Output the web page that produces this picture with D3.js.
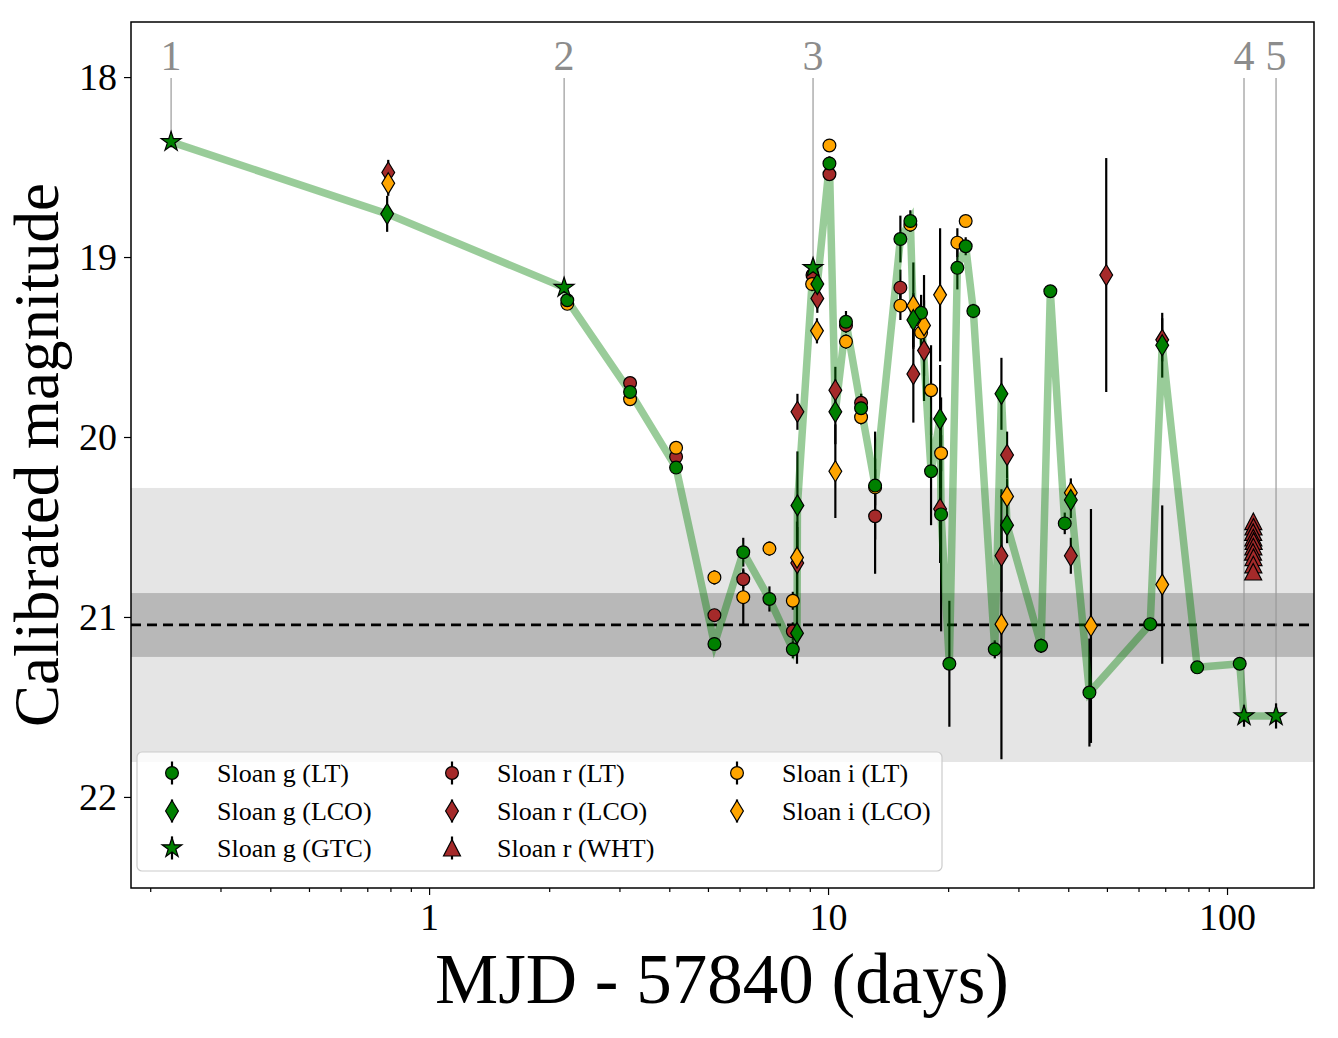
<!DOCTYPE html>
<html>
<head>
<meta charset="utf-8">
<script src="https://cdn.jsdelivr.net/npm/d3@7"></script>
<style>
  body { margin: 0; background: #fff; }
  svg text { font-family: "Liberation Serif", "DejaVu Serif", serif; }
</style>
</head>
<body>
<svg id="chart" width="1338" height="1038"></svg>
<script>
// each point: [MJD - 57840 (days), magnitude, error]
const gLT = [
  [2.22, 19.24, 0.03], [3.19, 19.75, 0.03], [4.16, 20.17, 0.03], [5.19, 21.15, 0.03],
  [6.13, 20.64, 0.08], [7.13, 20.90, 0.07], [8.16, 21.18, 0.05], [10.08, 18.48, 0.04],
  [11.09, 19.36, 0.06], [12.10, 19.84, 0.08], [13.12, 20.27, 0.30], [15.18, 18.90, 0.13],
  [16.08, 18.80, 0.06], [17.11, 19.31, 0.10], [18.12, 20.19, 0.30], [19.20, 20.43, 0.65],
  [20.14, 21.26, 0.35], [21.09, 19.06, 0.12], [22.13, 18.94, 0.05], [23.13, 19.30, 0.04],
  [26.17, 21.18, 0.05], [34.2, 21.16, 0.04], [36.07, 19.19, 0.03], [39.2, 20.48, 0.06],
  [45.2, 21.42, 0.30], [64.2, 21.04, 0.03], [84.2, 21.28, 0.03], [107.6, 21.26, 0.03]
];
const gLCO = [
  [0.785, 18.76, 0.10], [8.36, 21.09, 0.17], [8.38, 20.38, 0.30], [9.40, 19.15, 0.10],
  [10.43, 19.86, 0.18], [16.36, 19.35, 0.15], [19.09, 19.90, 0.30], [27.2, 19.76, 0.20],
  [28.1, 20.49, 0.10], [40.6, 20.35, 0.10], [68.8, 19.49, 0.18]
];
const gGTC = [
  [0.2256, 18.36, 0.03], [2.18, 19.17, 0.03], [9.17, 19.06, 0.05], [110.3, 21.55, 0.06], [132.7, 21.55, 0.07]
];
const rLT = [
  [3.19, 19.70, 0.03], [4.16, 20.11, 0.03], [5.19, 20.99, 0.03], [6.13, 20.79, 0.05],
  [8.16, 21.08, 0.05], [9.14, 19.10, 0.04], [10.08, 18.54, 0.03], [11.09, 19.38, 0.04],
  [12.10, 19.81, 0.05], [13.12, 20.44, 0.32], [15.18, 19.17, 0.10]
];
const rLCO = [
  [0.79, 18.53, 0.07], [8.38, 19.86, 0.10], [8.37, 20.70, 0.20], [9.40, 19.23, 0.08],
  [10.43, 19.74, 0.13], [16.36, 19.65, 0.27], [17.4, 19.52, 0.28], [19.09, 20.40, 0.30],
  [27.2, 20.66, 0.20], [28.1, 20.10, 0.13], [40.6, 20.66, 0.10], [49.8, 19.10, 0.65],
  [68.8, 19.46, 0.12]
];
const rWHT = [
  [116.4, 20.47, 0.03], [116.5, 20.50, 0.03], [116.3, 20.53, 0.03], [116.4, 20.56, 0.03],
  [116.6, 20.58, 0.03], [116.4, 20.61, 0.03], [116.2, 20.64, 0.03], [116.5, 20.67, 0.03],
  [116.4, 20.71, 0.03], [116.3, 20.75, 0.03]
];
const iLT = [
  [2.22, 19.26, 0.03], [3.19, 19.79, 0.03], [4.16, 20.06, 0.03], [5.19, 20.78, 0.04],
  [6.13, 20.89, 0.16], [7.13, 20.62, 0.04], [8.16, 20.91, 0.05], [9.12, 19.15, 0.04],
  [10.08, 18.38, 0.03], [11.09, 19.47, 0.04], [12.10, 19.89, 0.04], [13.12, 20.28, 0.10],
  [15.18, 19.27, 0.08], [16.08, 18.82, 0.04], [17.11, 19.42, 0.10], [18.12, 19.74, 0.25],
  [19.20, 20.09, 0.10], [21.09, 18.92, 0.08], [22.13, 18.80, 0.03]
];
const iLCO = [
  [0.79, 18.59, 0.07], [8.36, 20.67, 0.20], [9.38, 19.41, 0.07], [10.43, 20.19, 0.26],
  [16.36, 19.27, 0.24], [17.4, 19.38, 0.28], [19.09, 19.21, 0.37], [27.2, 21.04, 0.75],
  [28.1, 20.33, 0.10], [40.6, 20.31, 0.08], [45.6, 21.05, 0.65], [68.8, 20.82, 0.44]
];

// reference level and its 1 / 3 sigma bands
const refMag = 21.044;
const bandInner = [20.867, 21.222];
const bandOuter = [20.283, 21.806];

// GTC epochs marked on top
const epochLabels = ["1", "2", "3", "4", "5"];

const xMajor = [1, 10, 100];
const xMinor = [0.2, 0.3, 0.4, 0.5, 0.6, 0.7, 0.8, 0.9, 2, 3, 4, 5, 6, 7, 8, 9, 20, 30, 40, 50, 60, 70, 80, 90];
const yTicks = [18, 19, 20, 21, 22];

const legendLabels = [
  "Sloan g (LT)", "Sloan g (LCO)", "Sloan g (GTC)",
  "Sloan r (LT)", "Sloan r (LCO)", "Sloan r (WHT)",
  "Sloan i (LT)", "Sloan i (LCO)"
];

const GREEN = "#008000", BROWN = "#a52a2a", ORANGE = "#ffa500";

const W = 1338, H = 1038;
const M = { top: 22, right: 24, bottom: 150, left: 131 };
const iw = W - M.left - M.right, ih = H - M.top - M.bottom;

const x = d3.scaleLog().domain([0.179, 165.2]).range([0, iw]);
const y = d3.scaleLinear().domain([17.694, 22.506]).range([0, ih]);

// marker paths
const SHAPES = {
  circle: d3.symbol(d3.symbolCircle, Math.PI * 6.4 * 6.4)(),
  diamond: "M0,-10.5L6.4,0L0,10.5L-6.4,0Z",
  star: d3.symbol(d3.symbolStar, 122)(),
  triangle: "M0,-8.5L8.5,8L-8.5,8Z"
};

const series = [
  { label: "Sloan r (LT)", data: rLT, color: BROWN, shape: "circle" },
  { label: "Sloan r (LCO)", data: rLCO, color: BROWN, shape: "diamond" },
  { label: "Sloan r (WHT)", data: rWHT, color: BROWN, shape: "triangle" },
  { label: "Sloan i (LT)", data: iLT, color: ORANGE, shape: "circle" },
  { label: "Sloan i (LCO)", data: iLCO, color: ORANGE, shape: "diamond" },
  { label: "Sloan g (LT)", data: gLT, color: GREEN, shape: "circle" },
  { label: "Sloan g (LCO)", data: gLCO, color: GREEN, shape: "diamond" },
  { label: "Sloan g (GTC)", data: gGTC, color: GREEN, shape: "star" }
];

const svg = d3.select("#chart");
svg.append("rect").attr("width", W).attr("height", H).attr("fill", "#fff");

const defs = svg.append("defs");
defs.append("clipPath").attr("id", "clip").append("rect").attr("width", iw).attr("height", ih);

const g = svg.append("g").attr("transform", `translate(${M.left},${M.top})`);
const plot = g.append("g").attr("clip-path", "url(#clip)");

// bands + reference
plot.append("rect").attr("x", 0).attr("width", iw)
  .attr("y", y(bandOuter[0])).attr("height", y(bandOuter[1]) - y(bandOuter[0]))
  .attr("fill", "#e5e5e5");
plot.append("rect").attr("x", 0).attr("width", iw)
  .attr("y", y(bandInner[0])).attr("height", y(bandInner[1]) - y(bandInner[0]))
  .attr("fill", "#b8b8b8");
plot.append("line").attr("x1", 0).attr("x2", iw).attr("y1", y(refMag)).attr("y2", y(refMag))
  .attr("stroke", "#000").attr("stroke-width", 2.6).attr("stroke-dasharray", "10,6");

// epoch markers
gGTC.forEach((d, i) => {
  plot.append("line").attr("x1", x(d[0])).attr("x2", x(d[0]))
    .attr("y1", 56).attr("y2", y(d[1]))
    .attr("stroke", "#999").attr("stroke-width", 1.2);
  g.append("text").attr("x", x(d[0])).attr("y", 48)
    .attr("text-anchor", "middle").attr("font-size", 42).attr("fill", "#8c8c8c")
    .text(epochLabels[i]);
});

// error bars
series.forEach((s) => {
  plot.selectAll(null).data(s.data).join("line")
    .attr("x1", (d) => x(d[0])).attr("x2", (d) => x(d[0]))
    .attr("y1", (d) => y(d[1] - d[2])).attr("y2", (d) => y(d[1] + d[2]))
    .attr("stroke", "#000").attr("stroke-width", 2.2);
});

// g-band light curve
const gAll = [...gLT, ...gLCO, ...gGTC].sort((a, b) => a[0] - b[0]);
plot.append("path").datum(gAll)
  .attr("d", d3.line().x((d) => x(d[0])).y((d) => y(d[1])))
  .attr("fill", "none").attr("stroke", GREEN).attr("stroke-opacity", 0.4)
  .attr("stroke-width", 7.5).attr("stroke-linejoin", "miter");

// markers
series.forEach((s) => {
  plot.selectAll(null).data(s.data).join("path")
    .attr("d", SHAPES[s.shape])
    .attr("transform", (d) => `translate(${x(d[0])},${y(d[1])})`)
    .attr("fill", s.color).attr("stroke", "#000").attr("stroke-width", 1.2);
});

// axes
const xAxis = g.append("g").attr("transform", `translate(0,${ih})`)
  .call(d3.axisBottom(x).tickValues(xMajor).tickFormat(d3.format("d")).tickSize(7).tickPadding(8));
const xMinorAxis = g.append("g").attr("transform", `translate(0,${ih})`)
  .call(d3.axisBottom(x).tickValues(xMinor).tickFormat("").tickSize(4));
const yAxis = g.append("g")
  .call(d3.axisLeft(y).tickValues(yTicks).tickFormat(d3.format("d")).tickSize(7).tickPadding(7));
[xAxis, xMinorAxis, yAxis].forEach((a) => {
  a.select(".domain").remove();
  a.selectAll(".tick line").attr("stroke", "#000").attr("stroke-width", 1.2);
  a.selectAll("text").attr("font-size", 38).attr("fill", "#000")
    .style("font-family", '"Liberation Serif", serif');
});

g.append("rect").attr("width", iw).attr("height", ih)
  .attr("fill", "none").attr("stroke", "#000").attr("stroke-width", 1.5);

// axis titles
svg.append("text").attr("x", 722).attr("y", 1003).attr("text-anchor", "middle")
  .attr("font-size", 71).text("MJD - 57840 (days)");
svg.append("text").attr("transform", "translate(58,455) rotate(-90)").attr("text-anchor", "middle")
  .attr("font-size", 63).text("Calibrated magnitude");

// legend
const leg = g.append("g").attr("transform", `translate(${137 - M.left},${752 - M.top})`);
leg.append("rect").attr("width", 805).attr("height", 119).attr("rx", 5)
  .attr("fill", "#fff").attr("fill-opacity", 0.8).attr("stroke", "#cccccc").attr("stroke-width", 1.2);
const byLabel = Object.fromEntries(series.map((s) => [s.label, s]));
const colX = [35, 315, 600], rowY = [21, 59, 96];
legendLabels.forEach((lab, i) => {
  const s = byLabel[lab];
  const col = Math.floor(i / 3), row = i % 3;
  const it = leg.append("g").attr("transform", `translate(${colX[col]},${rowY[row]})`);
  it.append("line").attr("y1", -11.5).attr("y2", 11.5).attr("stroke", "#000").attr("stroke-width", 2.2);
  it.append("path").attr("d", SHAPES[s.shape]).attr("fill", s.color)
    .attr("stroke", "#000").attr("stroke-width", 1.2);
  it.append("text").attr("x", 45).attr("y", 9).attr("font-size", 26).text(lab);
});
</script>
</body>
</html>
